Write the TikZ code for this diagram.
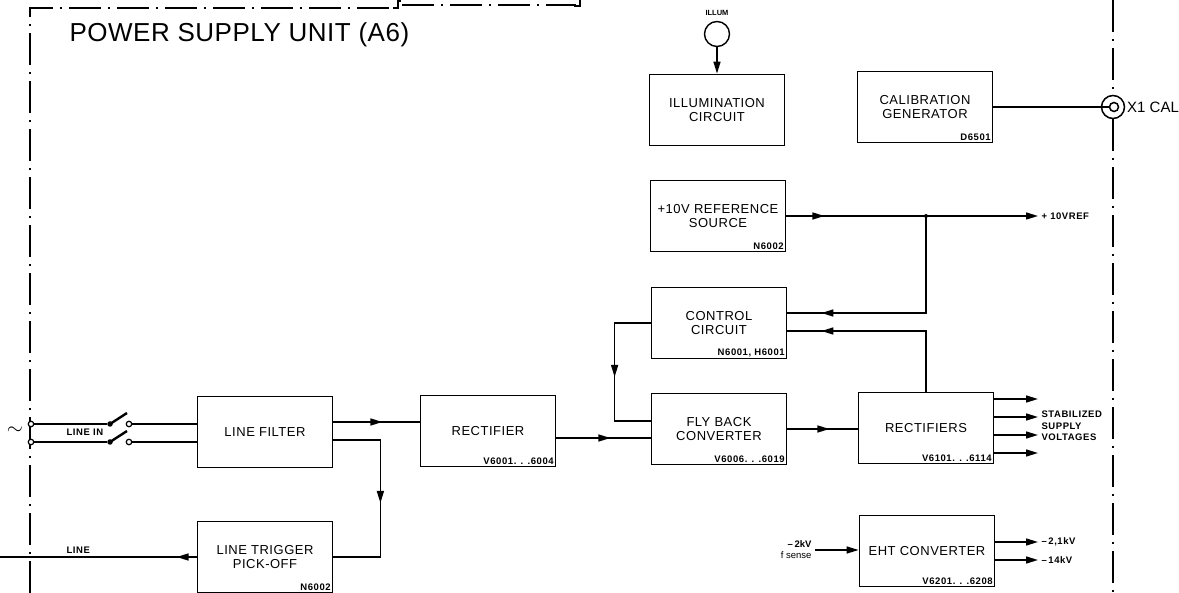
\documentclass[tikz,border=0pt]{standalone}
\usepackage{fontspec}
\setmainfont{Liberation Sans}
\usetikzlibrary{arrows.meta,positioning,calc,decorations.markings}
\newcommand\boxfont{\addfontfeature{LetterSpace=4}\fontsize{13}{14.5}\selectfont}
\newcommand\tagfont{\bfseries\addfontfeature{LetterSpace=6}\fontsize{9.5}{11.5}\selectfont}
\newcommand\titlefont{\addfontfeature{LetterSpace=2}\fontsize{26}{30}\selectfont}

\begin{document}
\begin{tikzpicture}[
    x=1pt, y=-1pt,
    blk/.style={draw, line width=1.8pt, minimum width=135pt, minimum height=71pt, align=center, font=\boxfont, inner sep=0pt},
    partno/.style={anchor=south east, font=\tagfont, inner sep=2.5pt},
    wire/.style={line width=1.5pt},
    arr/.style={wire, -{Triangle[length=12pt,width=7pt]}},
    midtip/.style={postaction={decorate}, decoration={markings, mark=at position #1 with {\arrow{Triangle[length=12pt,width=7pt]}}}},
    unitframe/.style={line width=1.8pt, dash pattern=on 32pt off 7pt on 2pt off 7pt},
    blob/.style={circle, fill, inner sep=0pt, minimum size=#1},
    term/.style={draw, circle, line width=1.2pt, fill=white, inner sep=0pt, minimum size=5.5pt}
  ]
    \fill[white] (0,0) rectangle (1179,593);
    \useasboundingbox (0,0) rectangle (1179,593);

    % frame of the unit
    \draw[unitframe] (30,593) -- (30,8) -- (396,8);
    \draw[line width=1.8pt] (393,8) -- (398,8) -- (398,1) -- (401,1);
    \draw[unitframe] (402,5) -- (576,5);
    \draw[line width=1.8pt] (574,6) -- (580,6) -- (580,0);
    \node[anchor=base west, font=\titlefont] (title) at (66,42) {POWER SUPPLY UNIT (A6)};

    % illumination and calibration
    \node[blk] (illum) at (717,110) {ILLUMINATION\\CIRCUIT};
    \node[draw, circle, line width=1.4pt, minimum size=25pt, inner sep=0pt] (lamp) at (717,34) {};
    \node[font=\bfseries\fontsize{7.5}{8}\selectfont] (lamplbl) at (717,13) {ILLUM};
    \draw[arr] (lamp) -- (illum);

    \node[blk] (calib) at (925,107) {CALIBRATION\\GENERATOR};
    \node[partno] (calibno) at (calib.south east) {D6501};
    \node[draw, circle, wire, fill=white, minimum size=23pt, inner sep=0pt] (jack) at (1113,107) {};
    \node[draw, circle, wire, minimum size=9pt, inner sep=0pt] (jackin) at (1114,107) {};
    \node[anchor=west, inner sep=1pt, font=\fontsize{15}{17}\selectfont] (callbl) at (1126,107) {X1 CAL};
    \draw[wire] (calib.east) -- (calib.east -| jackin.west);
    \draw[unitframe] (1113,0) -- (jack.north);
    \draw[unitframe] (jack.south) -- (1113,593);

    % reference and control
    \node[blk] (vref) at (718,216) {+10V REFERENCE\\SOURCE};
    \node[partno] (vrefno) at (vref.south east) {N6002};
    \node[anchor=west, font=\tagfont] (vreflbl) at (1038,216) {+ 10VREF};
    \coordinate (j1) at (926,216);
    \draw[arr, midtip=38pt] (vref.east) -- (vreflbl.west);
    \fill (j1) circle (2pt);

    \node[blk] (ctrl) at (719,323) {CONTROL\\CIRCUIT};
    \node[partno] (ctrlno) at (ctrl.south east) {N6001, H6001};

    \node[blk] (rects) at (926,428) {RECTIFIERS};
    \node[partno] (rectsno) at (rects.south east) {V6101. . .6114};
    \draw[wire, midtip=-34pt] (j1) |- ($(ctrl.east)+(0,-10)$);
    \draw[wire, midtip=-34pt] (rects.north) |- ($(ctrl.east)+(0,8)$);

    \node[blk] (fly) at (719,429) {FLY BACK\\CONVERTER};
    \node[partno] (flyno) at (fly.south east) {V6006. . .6019};
    \draw[wire, midtip=90pt] (ctrl.west) -- ++(-36,0) |- ($(fly.west)+(0,-8)$);

    \node[blk] (rect) at (488,431) {RECTIFIER};
    \node[partno] (rectno) at (rect.south east) {V6001. . .6004};
    \draw[wire, midtip=54pt] ($(rect.east)+(0,7)$) -- ($(fly.west)+(0,9)$);
    \draw[wire, midtip=42pt] (fly.east) -- (fly.east -| rects.west);

    % stabilized outputs
    \foreach \yy [count=\i] in {399,417,435,453}
      \coordinate (so\i) at (1038,\yy);
    \foreach \i in {1,...,4}
      \draw[arr] (rects.east |- so\i) -- (so\i);
    \node[anchor=west, align=left, font=\tagfont] (stab) at (1038,426) {STABILIZED\\SUPPLY\\VOLTAGES};

    % line input
    \node[blk] (lf) at (265,432) {LINE FILTER};
    \node[blk] (ltp) at (265,557) {LINE TRIGGER\\PICK-OFF};
    \node[partno] (ltpno) at (ltp.south east) {N6002};
    \coordinate (lfo1) at ($(lf.east)+(0,-10)$);
    \coordinate (lfo2) at ($(lf.east)+(0,8)$);
    \draw[wire, midtip=49pt] (lfo1) -- (rect.west |- lfo1);
    \draw[wire, midtip=110pt] (lfo2) -- ++(47,0) |- (ltp.east);
    \coordinate (lineend) at (0,557);
    \draw[wire, midtip=20pt] (ltp.west) -- (lineend);
    \node[anchor=base west, font=\tagfont] (linelbl) at (63,554) {LINE};

    \node[term] (tA) at (31,424) {};
    \node[term] (tB) at (31,442) {};
    \node[blob=5.5pt] (sA) at (110,424) {};
    \node[blob=5.5pt] (sB) at (110,442) {};
    \node[term] (cA) at (129,424) {};
    \node[term] (cB) at (129,442) {};
    \draw[wire] (tA) -- (sA);
    \draw[wire] (tB) -- (sB);
    \draw[line width=2.4pt] (sA.center) -- ++(17,-11);
    \draw[line width=2.4pt] (sB.center) -- ++(17,-11);
    \draw[wire] (cA) -- (cA -| lf.west);
    \draw[wire] (cB) -- (cB -| lf.west);
    \node[font=\fontsize{20}{20}\selectfont] (ac) at (15,431) {$\sim$};
    \node[anchor=base west, font=\tagfont] (linein) at (63,436) {LINE IN};

    % EHT
    \node[blk] (eht) at (927,551) {EHT CONVERTER};
    \node[partno] (ehtno) at (eht.south east) {V6201. . .6208};
    \node[anchor=east, align=right, font=\fontsize{9.5}{11}\selectfont] (sense) at (815,550) {\textbf{\textendash\,2kV}\\f sense};
    \draw[arr] (sense.east) -- (sense.east -| eht.west);
    \node[anchor=west, font=\tagfont] (kv1) at (1038,542) {\textendash\,2,1kV};
    \node[anchor=west, font=\tagfont] (kv2) at (1038,560) {\textendash\,14kV};
    \draw[arr] (eht.east |- kv1) -- (kv1.west);
    \draw[arr] (eht.east |- kv2) -- (kv2.west);
  \end{tikzpicture}
\end{document}
